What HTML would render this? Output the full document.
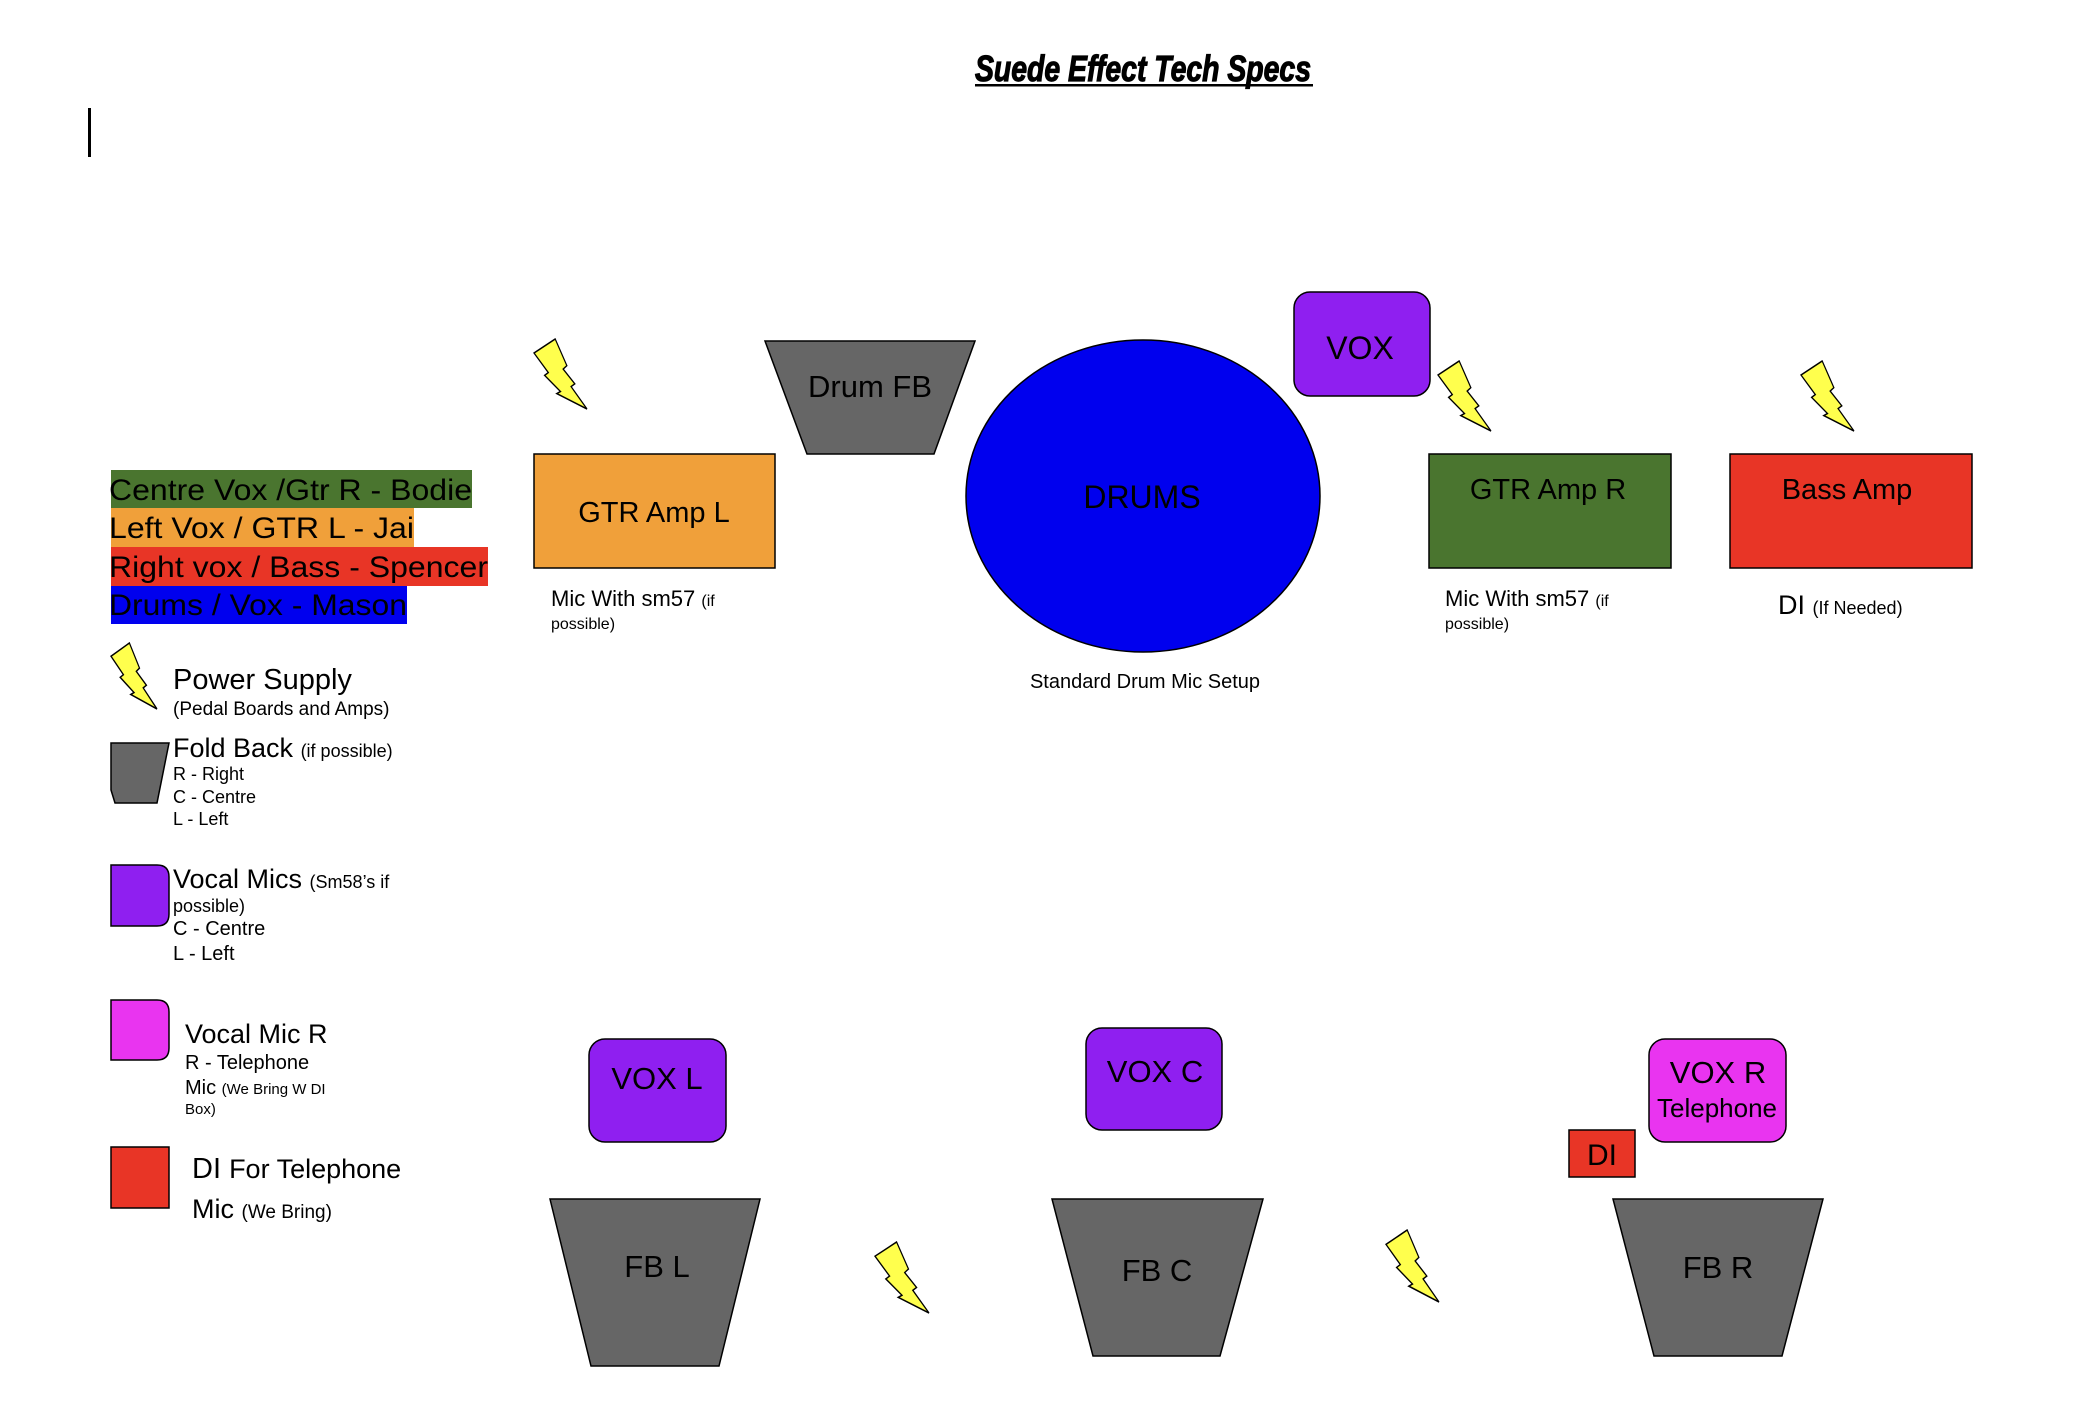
<!DOCTYPE html>
<html><head><meta charset="utf-8"><style>
html,body{margin:0;padding:0;background:#fff}
svg{display:block}
text{font-family:"Liberation Sans",Arial,sans-serif;fill:#000}
</style></head><body>
<svg width="2074" height="1426" viewBox="0 0 2074 1426" xmlns="http://www.w3.org/2000/svg">
<defs>
<polygon id="bolt" points="0.4,0 0,0.2 0.27,0.48 0.2,0.52 0.5,0.75 0.43,0.78 1,1 0.7,0.68 0.77,0.64 0.55,0.43 0.62,0.38" />
</defs>

<!-- Title -->
<text x="975" y="81" font-size="36" font-weight="bold" font-style="italic" stroke="#000" stroke-width="1.2" style="font-family:'Liberation Sans Narrow','Liberation Sans',sans-serif" textLength="336" lengthAdjust="spacingAndGlyphs">Suede Effect Tech Specs</text>
<rect x="975" y="84" width="338" height="2.5" fill="#000"/>
<!-- cursor -->
<rect x="88" y="108" width="3" height="49" fill="#000"/>

<!-- Legend bands -->
<rect x="111" y="470" width="361" height="38" fill="#4a752f"/>
<rect x="111" y="508" width="303" height="39" fill="#f0a03a"/>
<rect x="111" y="547" width="377" height="39" fill="#e83526"/>
<rect x="111" y="586" width="296" height="38" fill="#0000ee"/>
<text x="109" y="500" font-size="30" textLength="363" lengthAdjust="spacingAndGlyphs">Centre Vox /Gtr R - Bodie</text>
<text x="109" y="538" font-size="30" textLength="305" lengthAdjust="spacingAndGlyphs">Left Vox / GTR L - Jai</text>
<text x="109" y="577" font-size="30" textLength="379" lengthAdjust="spacingAndGlyphs">Right vox / Bass - Spencer</text>
<text x="109" y="615" font-size="30" textLength="298" lengthAdjust="spacingAndGlyphs">Drums / Vox - Mason</text>

<!-- Legend: power -->
<use href="#bolt" transform="translate(111,643) scale(46,66)" fill="#ffff4d" stroke="#000" stroke-width="0.025"/>
<text x="173" y="689" font-size="29">Power Supply</text>
<text x="173" y="715" font-size="19">(Pedal Boards and Amps)</text>

<!-- Legend: fold back -->
<polygon points="111,743 169,743 157,803 115,803 111,790" fill="#666" stroke="#000" stroke-width="1.5"/>
<text x="173" y="757" font-size="27">Fold Back <tspan font-size="18">(if possible)</tspan></text>
<text x="173" y="780" font-size="18">R - Right</text>
<text x="173" y="803" font-size="18">C - Centre</text>
<text x="173" y="825" font-size="18">L - Left</text>

<!-- Legend: vocal mics -->
<path d="M111,865 H157 Q169,865 169,877 V914 Q169,926 157,926 H111 Z" fill="#8f1ff0" stroke="#000" stroke-width="1.5"/>
<text x="173" y="888" font-size="27">Vocal Mics <tspan font-size="18">(Sm58’s if</tspan></text>
<text x="173" y="912" font-size="18">possible)</text>
<text x="173" y="935" font-size="20">C - Centre</text>
<text x="173" y="960" font-size="20">L - Left</text>

<!-- Legend: vocal mic R -->
<path d="M111,1000 H157 Q169,1000 169,1012 V1048 Q169,1060 157,1060 H111 Z" fill="#e934f0" stroke="#000" stroke-width="1.5"/>
<text x="185" y="1043" font-size="27">Vocal Mic R</text>
<text x="185" y="1069" font-size="20">R - Telephone</text>
<text x="185" y="1094" font-size="20">Mic <tspan font-size="15">(We Bring W DI</tspan></text>
<text x="185" y="1114" font-size="15">Box)</text>

<!-- Legend: DI -->
<rect x="111" y="1147" width="58" height="61" fill="#e83526" stroke="#000" stroke-width="1.5"/>
<text x="192" y="1178" font-size="29">DI <tspan font-size="27">For Telephone</tspan></text>
<text x="192" y="1218" font-size="27">Mic <tspan font-size="19">(We Bring)</tspan></text>

<!-- Top row -->
<use href="#bolt" transform="translate(534,339) scale(53,70)" fill="#ffff4d" stroke="#000" stroke-width="0.022"/>
<rect x="534" y="454" width="241" height="114" fill="#f0a03a" stroke="#000" stroke-width="1.5"/>
<text x="654" y="522" font-size="29" text-anchor="middle">GTR Amp L</text>
<text x="551" y="606" font-size="22">Mic With sm57 <tspan font-size="16">(if</tspan></text>
<text x="551" y="629" font-size="16">possible)</text>

<polygon points="765,341 975,341 934,454 807,454" fill="#666" stroke="#000" stroke-width="1.5"/>
<text x="870" y="397" font-size="31" text-anchor="middle">Drum FB</text>

<ellipse cx="1143" cy="496" rx="177" ry="156" fill="#0000ee" stroke="#000" stroke-width="1.5"/>
<text x="1142" y="508" font-size="32" text-anchor="middle">DRUMS</text>
<text x="1145" y="688" font-size="20" text-anchor="middle">Standard Drum Mic Setup</text>

<rect x="1294" y="292" width="136" height="104" rx="16" fill="#8f1ff0" stroke="#000" stroke-width="1.5"/>
<text x="1360" y="359" font-size="32" text-anchor="middle">VOX</text>

<use href="#bolt" transform="translate(1438,361) scale(53,70)" fill="#ffff4d" stroke="#000" stroke-width="0.022"/>
<rect x="1429" y="454" width="242" height="114" fill="#4a752f" stroke="#000" stroke-width="1.5"/>
<text x="1548" y="499" font-size="29" text-anchor="middle">GTR Amp R</text>
<text x="1445" y="606" font-size="22">Mic With sm57 <tspan font-size="16">(if</tspan></text>
<text x="1445" y="629" font-size="16">possible)</text>

<use href="#bolt" transform="translate(1801,361) scale(53,70)" fill="#ffff4d" stroke="#000" stroke-width="0.022"/>
<rect x="1730" y="454" width="242" height="114" fill="#e83526" stroke="#000" stroke-width="1.5"/>
<text x="1847" y="499" font-size="29" text-anchor="middle">Bass Amp</text>
<text x="1778" y="614" font-size="27">DI <tspan font-size="18">(If Needed)</tspan></text>

<!-- Bottom row -->
<rect x="589" y="1039" width="137" height="103" rx="16" fill="#8f1ff0" stroke="#000" stroke-width="1.5"/>
<text x="657" y="1089" font-size="31" text-anchor="middle">VOX L</text>
<polygon points="550,1199 760,1199 719,1366 591,1366" fill="#666" stroke="#000" stroke-width="1.5"/>
<text x="657" y="1277" font-size="31" text-anchor="middle">FB L</text>
<use href="#bolt" transform="translate(875,1242) scale(54,71)" fill="#ffff4d" stroke="#000" stroke-width="0.022"/>

<rect x="1086" y="1028" width="136" height="102" rx="16" fill="#8f1ff0" stroke="#000" stroke-width="1.5"/>
<text x="1155" y="1082" font-size="31" text-anchor="middle">VOX C</text>
<polygon points="1052,1199 1263,1199 1220,1356 1093,1356" fill="#666" stroke="#000" stroke-width="1.5"/>
<text x="1157" y="1281" font-size="31" text-anchor="middle">FB C</text>
<use href="#bolt" transform="translate(1386,1230) scale(53,72)" fill="#ffff4d" stroke="#000" stroke-width="0.022"/>

<rect x="1569" y="1130" width="66" height="47" fill="#e83526" stroke="#000" stroke-width="1.5"/>
<text x="1602" y="1165" font-size="30" text-anchor="middle">DI</text>
<rect x="1649" y="1039" width="137" height="103" rx="16" fill="#e934f0" stroke="#000" stroke-width="1.5"/>
<text x="1718" y="1083" font-size="31" text-anchor="middle">VOX R</text>
<text x="1717" y="1117" font-size="26" text-anchor="middle">Telephone</text>
<polygon points="1613,1199 1823,1199 1782,1356 1654,1356" fill="#666" stroke="#000" stroke-width="1.5"/>
<text x="1718" y="1278" font-size="31" text-anchor="middle">FB R</text>
</svg>
</body></html>
